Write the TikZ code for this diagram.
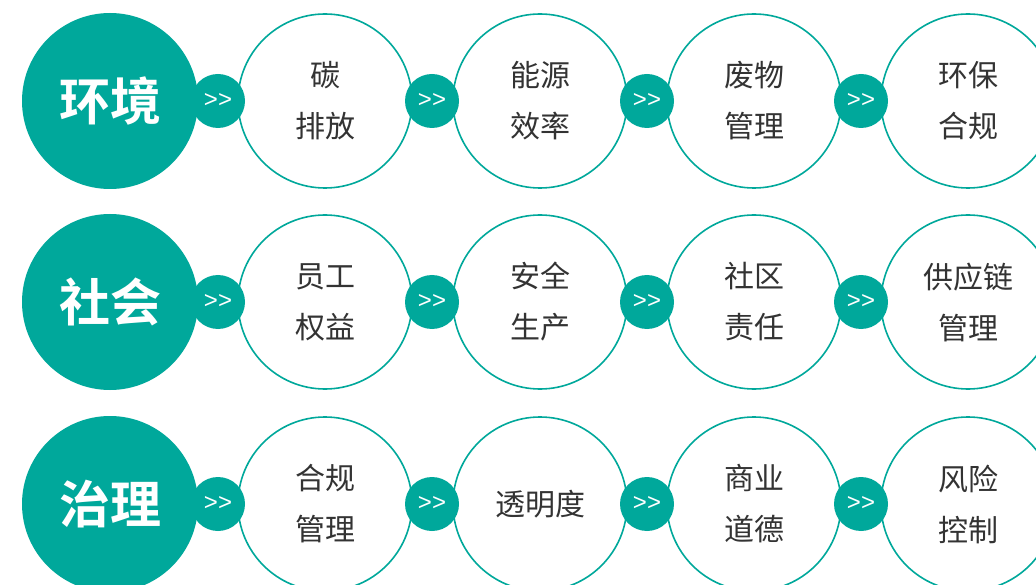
\documentclass[tikz,border=0pt]{standalone}
\usepackage{fontspec}
\setmainfont{Noto Sans CJK SC}
\newfontfamily\cjk{Noto Sans CJK SC}
\newfontfamily\cjkbold{Noto Sans CJK SC Bold}
\newfontfamily\arrfont{Liberation Sans}
\definecolor{teal1}{RGB}{0,168,155}
\definecolor{txt}{RGB}{51,51,51}
\tikzset{
  bigc/.style={circle,fill=teal1,minimum size=176pt,inner sep=0pt,text=white,font=\cjkbold\fontsize{51}{58}\selectfont},
  itemc/.style={circle,draw=teal1,line width=1.6pt,fill=white,minimum size=174pt,inner sep=0pt,text=txt,align=center,font=\cjk\fontsize{30}{51}\selectfont},
  arrc/.style={circle,fill=teal1,minimum size=54pt,inner sep=0pt,text=white,font=\arrfont\fontsize{24}{26}\selectfont}
}
\begin{document}
\begin{tikzpicture}[x=1pt,y=-1pt]
\useasboundingbox (0,0) rectangle (1036,585);
\fill[white] (0,0) rectangle (1036,585);
% row 1
\node[bigc] (b1) at (110,101) {环境};
\node[itemc] (r1c1) at (325,101) {碳\\排放};
\node[itemc] (r1c2) at (540,101) {能源\\效率};
\node[itemc] (r1c3) at (754,101) {废物\\管理};
\node[itemc] (r1c4) at (968,101) {环保\\合规};
\node[arrc] (r1a1) at (218,101) {>>};
\node[arrc] (r1a2) at (432,101) {>>};
\node[arrc] (r1a3) at (647,101) {>>};
\node[arrc] (r1a4) at (861,101) {>>};
% row 2
\node[bigc] (b2) at (110,302) {社会};
\node[itemc] (r2c1) at (325,302) {员工\\权益};
\node[itemc] (r2c2) at (540,302) {安全\\生产};
\node[itemc] (r2c3) at (754,302) {社区\\责任};
\node[itemc] (r2c4) at (968,302) {供应链\\管理};
\node[arrc] (r2a1) at (218,302) {>>};
\node[arrc] (r2a2) at (432,302) {>>};
\node[arrc] (r2a3) at (647,302) {>>};
\node[arrc] (r2a4) at (861,302) {>>};
% row 3
\node[bigc] (b3) at (110,504) {治理};
\node[itemc] (r3c1) at (325,504) {合规\\管理};
\node[itemc] (r3c2) at (540,504) {透明度};
\node[itemc] (r3c3) at (754,504) {商业\\道德};
\node[itemc] (r3c4) at (968,504) {风险\\控制};
\node[arrc] (r3a1) at (218,504) {>>};
\node[arrc] (r3a2) at (432,504) {>>};
\node[arrc] (r3a3) at (647,504) {>>};
\node[arrc] (r3a4) at (861,504) {>>};
\end{tikzpicture}
\end{document}
